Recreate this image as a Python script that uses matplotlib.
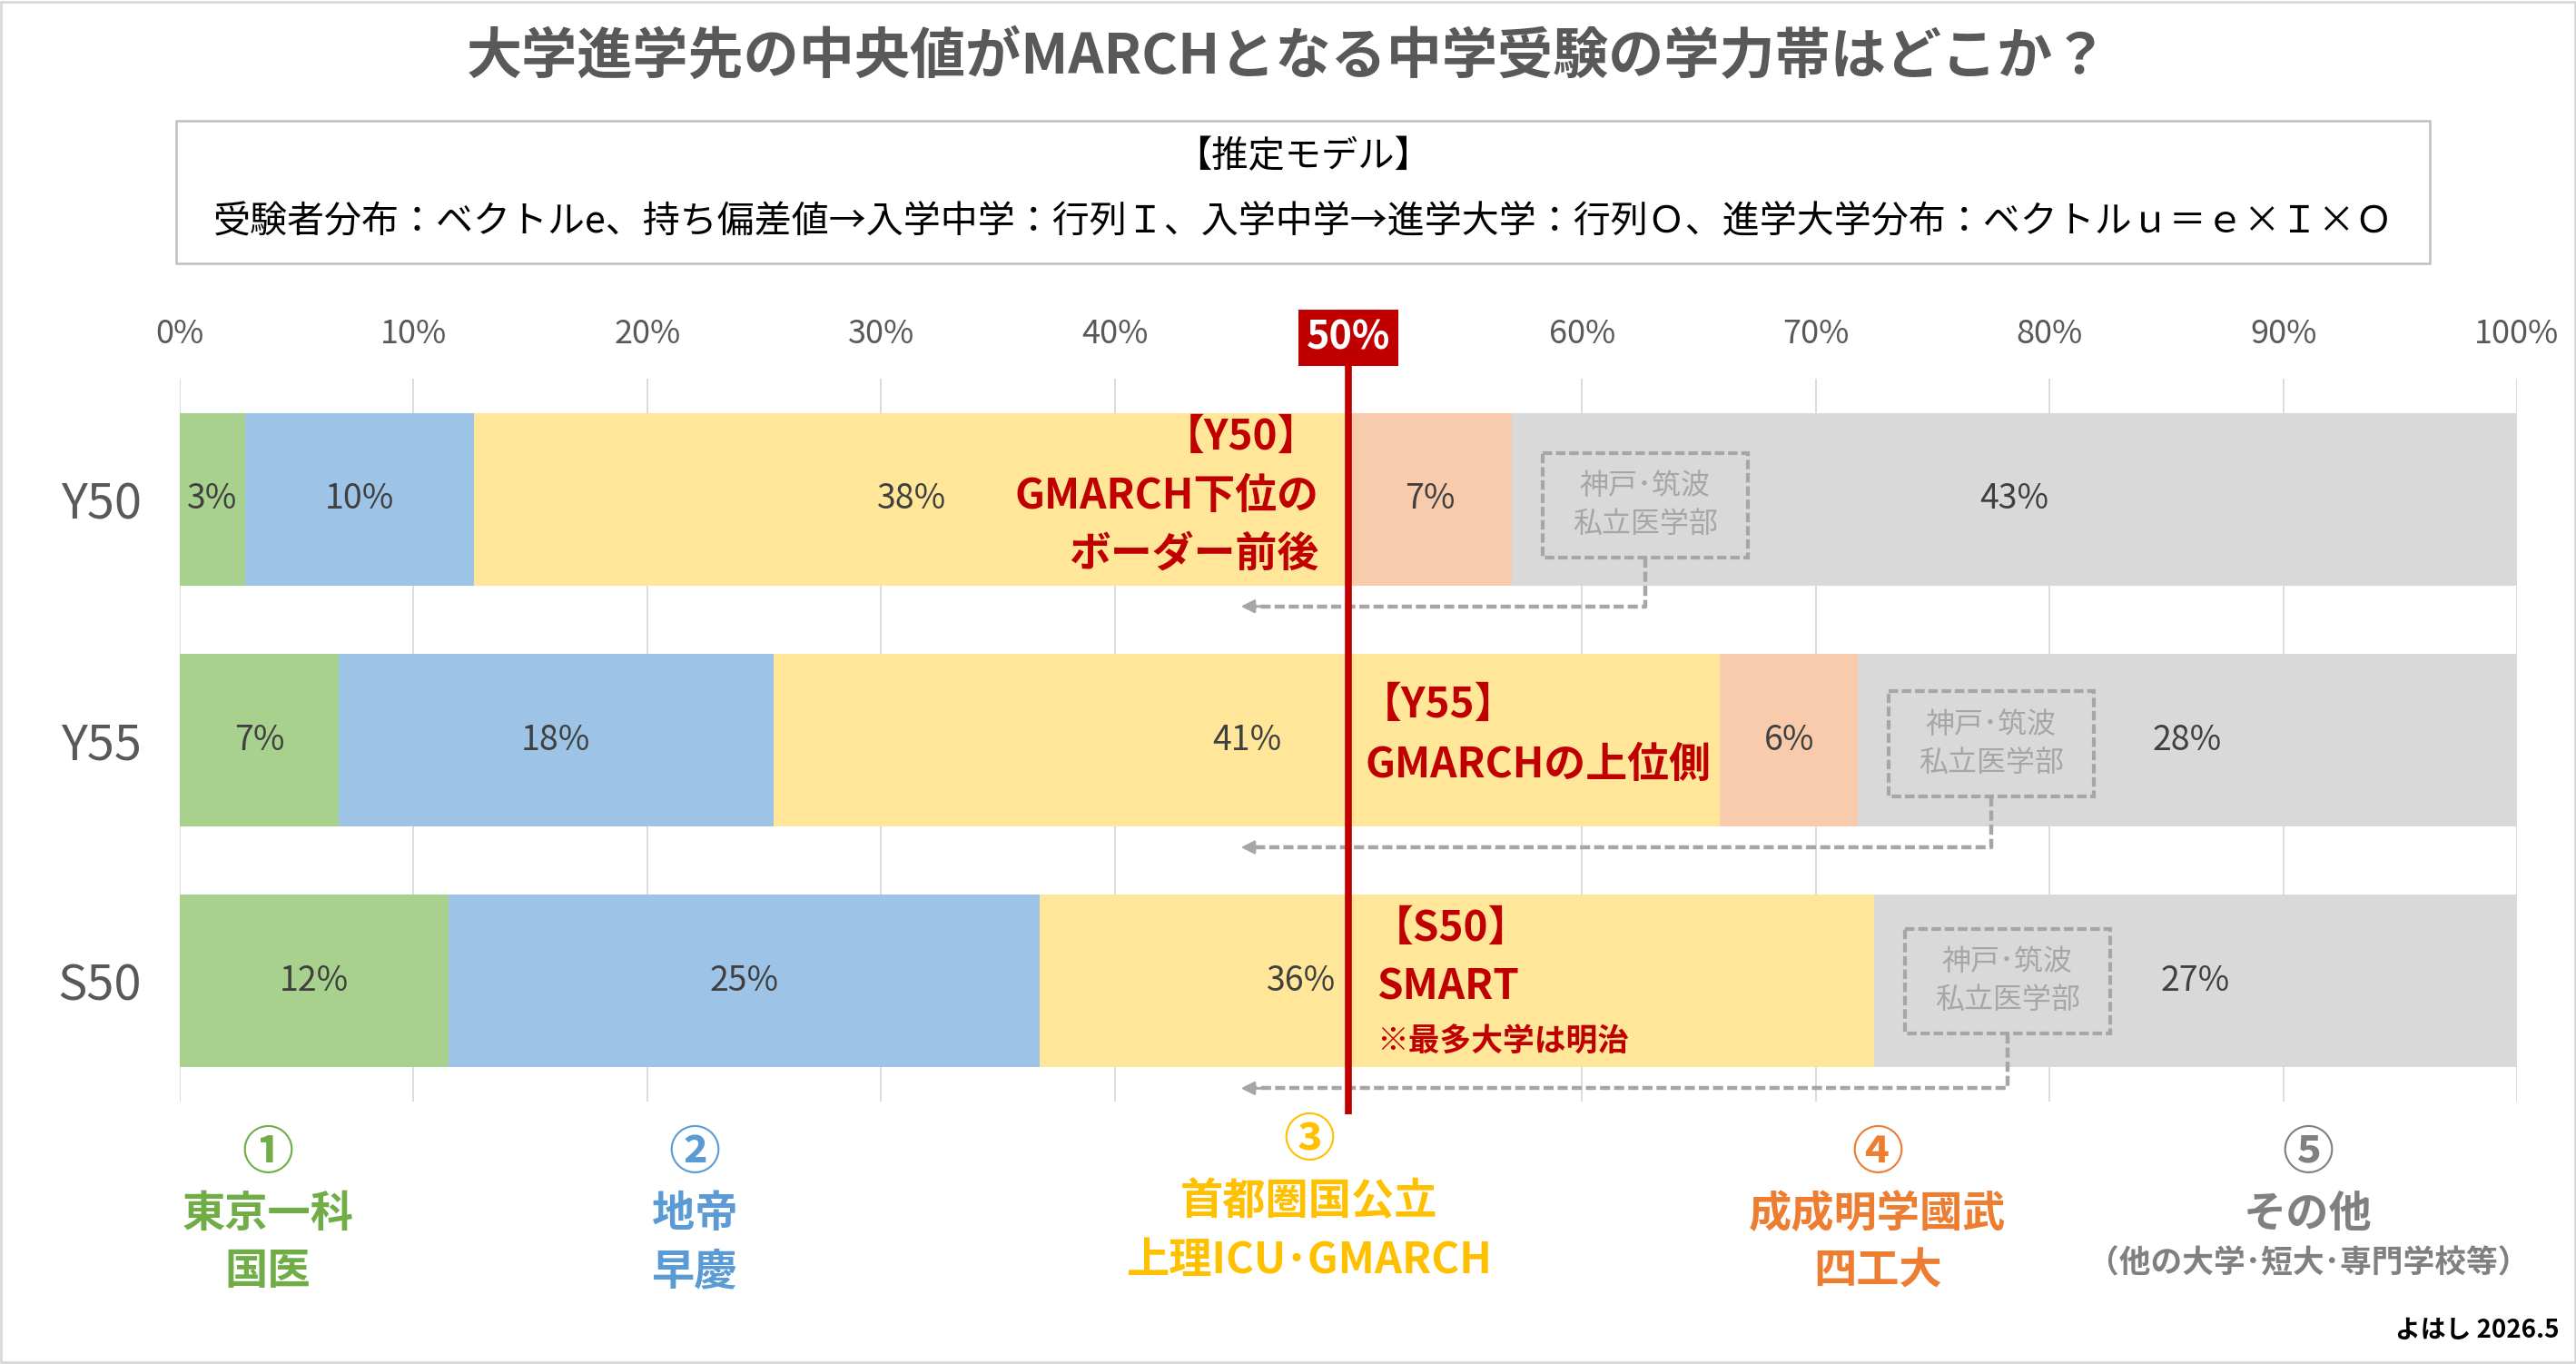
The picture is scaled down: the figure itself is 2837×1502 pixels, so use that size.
import matplotlib
matplotlib.use("Agg")
import matplotlib.pyplot as plt
from matplotlib.patches import Rectangle

plt.rcParams['font.family'] = ['Noto Sans CJK JP', 'DejaVu Sans']

# ---------------- data ----------------
rows = ["Y50", "Y55", "S50"]
seg_green = [2.8, 6.8, 11.5]
seg_blue = [9.8, 18.6, 25.3]
seg_yellow = [37.4, 40.5, 35.7]
seg_peach = [7.0, 5.9, 0.0]
seg_gray = [43.0, 28.2, 27.5]
lab_green = [3, 7, 12]
lab_blue = [10, 18, 25]
lab_yellow = [38, 41, 36]
lab_peach = [7, 6, None]
lab_gray = [43, 28, 27]
xticks = [0, 10, 20, 30, 40, 50, 60, 70, 80, 90, 100]
median_line = 50

title = "大学進学先の中央値がMARCHとなる中学受験の学力帯はどこか？"
model_head = "【推定モデル】"
model_text = "受験者分布：ベクトルe、持ち偏差値→入学中学：行列Ｉ、入学中学→進学大学：行列Ｏ、進学大学分布：ベクトルｕ＝ｅ×Ｉ×Ｏ"
notes = [["【Y50】", "GMARCH下位の", "ボーダー前後"],
         ["【Y55】", "GMARCHの上位側"],
         ["【S50】", "SMART", "※最多大学は明治"]]
box_text = "神戸･筑波\n私立医学部"
legend_num = ["①", "②", "③", "④", "⑤"]
legend_l1 = ["東京一科", "地帝", "首都圏国公立", "成成明学國武", "その他"]
legend_l2 = ["国医", "早慶", "上理ICU･GMARCH", "四工大", "（他の大学･短大･専門学校等）"]
credit = "よはし 2026.5"

# ---------------- style ----------------
seg_colors = ["#A9D18E", "#9DC3E6", "#FFE699", "#F8CBAD", "#D9D9D9"]
legend_colors = ["#70AD47", "#5B9BD5", "#FFC000", "#ED7D31", "#808080"]
RED = "#C00000"
DGRAY = "#595959"
LGRAY = "#A6A6A6"

W, H = 2837, 1502
fig = plt.figure(figsize=(W / 100, H / 100), dpi=100)
fig.patch.set_facecolor("white")


def fx(x):
    return x / W


def fy(y):
    return 1 - y / H


# figure frame
fig.add_artist(Rectangle((0.0005, 0.001), 0.999, 0.998, transform=fig.transFigure,
                         fill=False, edgecolor="#D9D9D9", lw=2))

# title
fig.text(fx(1418), fy(63), title, ha="center", va="center", fontsize=44,
         weight="bold", color=DGRAY)

# model box
fig.add_artist(Rectangle((fx(194), fy(290)), fx(2676) - fx(194), (290 - 133) / H,
                         transform=fig.transFigure, fill=False, edgecolor="#BFBFBF", lw=1.8))
fig.text(fx(1435), fy(173), model_head, ha="center", va="center", fontsize=29, color="black")
fig.text(fx(1435), fy(245), model_text, ha="center", va="center", fontsize=29.5, color="black")

# axes
ax = fig.add_axes([fx(198), fy(1213), (2772 - 198) / W, (1213 - 417) / H])
ax.set_xlim(0, 100)
ax.set_ylim(2.5, -0.5)
for s in ax.spines.values():
    s.set_visible(False)
ax.set_axisbelow(True)
ax.grid(axis="x", color="#D9D9D9", lw=1.3)
ax.xaxis.tick_top()
ax.set_xticks(xticks, ["" if t == median_line else f"{t}%" for t in xticks])
ax.tick_params(axis="x", length=0, pad=22, labelsize=26, labelcolor=DGRAY)
ax.set_yticks(range(len(rows)), rows)
ax.tick_params(axis="y", length=0, pad=30, labelsize=39, labelcolor=DGRAY)

bar_h = 0.716
series = [seg_green, seg_blue, seg_yellow, seg_peach, seg_gray]
labels = [lab_green, lab_blue, lab_yellow, lab_peach, lab_gray]
label_x_override = {(2, 2): 48.0}
for i in range(len(rows)):
    left = 0.0
    for k, (vals, labs) in enumerate(zip(series, labels)):
        v = vals[i]
        if v > 0:
            ax.barh(i, v, left=left, height=bar_h, color=seg_colors[k], lw=0)
            if labs[i] is not None:
                xl = label_x_override.get((i, k), left + v / 2)
                ax.text(xl, i, f"{labs[i]}%", ha="center", va="center",
                        fontsize=27, color="#404040")
        left += v

# median line + label
ax.plot([median_line, median_line], [-0.553, 2.553], color=RED, lw=5.5,
        clip_on=False, zorder=6, solid_capstyle="butt")
ax.text(median_line, -0.67, f"{median_line}%", ha="center", va="center",
        fontsize=31, weight="bold", color="white", zorder=7, clip_on=False,
        bbox=dict(boxstyle="square,pad=0.2", facecolor=RED, edgecolor="none"))

# red notes
NFS = 33
ax.text(48.75, 0 - 0.254, notes[0][0], ha="right", va="center", fontsize=NFS, weight="bold", color=RED)
ax.text(48.75, 0 - 0.009, notes[0][1], ha="right", va="center", fontsize=NFS, weight="bold", color=RED)
ax.text(48.75, 0 + 0.228, notes[0][2], ha="right", va="center", fontsize=NFS, weight="bold", color=RED)
ax.text(50.5, 1 - 0.143, notes[1][0], ha="left", va="center", fontsize=NFS, weight="bold", color=RED)
ax.text(50.7, 1 + 0.106, notes[1][1], ha="left", va="center", fontsize=NFS, weight="bold", color=RED)
ax.text(51.0, 2 - 0.217, notes[2][0], ha="left", va="center", fontsize=NFS, weight="bold", color=RED)
ax.text(51.2, 2 + 0.028, notes[2][1], ha="left", va="center", fontsize=NFS, weight="bold", color=RED)
ax.text(51.2, 2 + 0.251, notes[2][2], ha="left", va="center", fontsize=25, weight="bold", color=RED)

# gray dashed boxes with connectors
box_dy = [0.025, 0.015, 0.0]
box_h = 0.435
box_w = 8.8
for i in range(len(rows)):
    gray_start = seg_green[i] + seg_blue[i] + seg_yellow[i] + seg_peach[i]
    x0 = gray_start + 1.3
    yc = i + box_dy[i]
    ax.add_patch(Rectangle((x0, yc - box_h / 2), box_w, box_h, fill=False,
                           edgecolor=LGRAY, lw=3, linestyle=(0, (2.5, 1)), zorder=5))
    ax.text(x0 + box_w / 2, yc, box_text, ha="center", va="center", fontsize=23,
            color=LGRAY, linespacing=1.4, zorder=5)
    xc = x0 + box_w / 2
    ybot = i + 0.445
    ax.plot([xc, xc, 46.0], [yc + box_h / 2, ybot, ybot], color=LGRAY, lw=3.2,
            linestyle=(0, (2.5, 1)), clip_on=False, zorder=5)
    ax.annotate("", xy=(45.4, ybot), xytext=(46.3, ybot),
                arrowprops=dict(arrowstyle="-|>", color=LGRAY, lw=2,
                                mutation_scale=22, shrinkA=0, shrinkB=0),
                annotation_clip=False, zorder=5)

# bottom legend
leg_x = [295, 765, 1442, 2068, 2542]
leg_y = [(1270, 1337, 1400), (1270, 1337, 1400), (1256, 1323, 1388),
         (1270, 1337, 1400), (1270, 1337, 1391)]
for j in range(len(legend_num)):
    c = legend_colors[j]
    y0, y1, y2 = leg_y[j]
    fig.text(fx(leg_x[j]), fy(y0), legend_num[j], ha="center", va="center",
             fontsize=41, weight="bold", color=c)
    fig.text(fx(leg_x[j]), fy(y1), legend_l1[j], ha="center", va="center",
             fontsize=34, weight="bold", color=c)
    fig.text(fx(leg_x[j]), fy(y2), legend_l2[j], ha="center", va="center",
             fontsize=34 if j < 4 else 25, weight="bold", color=c)

fig.text(fx(2819), fy(1465), credit, ha="right", va="center", fontsize=20,
         weight="bold", color="black")

fig.savefig("out.png", dpi=100)
